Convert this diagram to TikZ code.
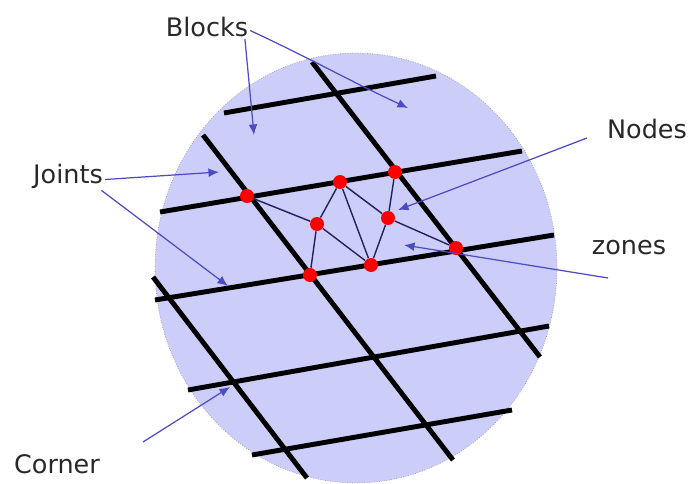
\documentclass[tikz,border=0pt]{standalone}
\usepackage{fontspec}
\setmainfont{DejaVu Sans}
\usetikzlibrary{shapes.geometric, arrows.meta, positioning}
\definecolor{rockfill}{RGB}{205,205,250}
\definecolor{pointblue}{RGB}{75,75,195}
\definecolor{zoneline}{RGB}{35,35,90}
\definecolor{labelgray}{RGB}{40,40,40}
\tikzset{
    rock/.style={ellipse, draw=gray!80, densely dotted, fill=rockfill, inner sep=0pt,
                 minimum width=8.04cm, minimum height=8.6cm},
    joint/.style={line width=2.8pt, draw=black},
    zoneedge/.style={line width=0.8pt, draw=zoneline},
    gridpt/.style={circle, fill=red, inner sep=0pt, minimum size=0.28cm},
    lbl/.style={font=\fontsize{14.5}{17}\selectfont, text=labelgray, inner sep=1pt},
    pointer/.style={-{Latex[length=6pt, width=5pt]}, line width=0.7pt, draw=pointblue},
}

\begin{document}
\begin{tikzpicture}[x=0.02cm, y=-0.02cm]
    \useasboundingbox (0,0) rectangle (691,484);
    \node[rock] (rock) at (356,268) {};
    % joints
    \draw[joint] (224,113) -- (436,76)
                 (160,212) -- (522,151)
                 (155,300) -- (554,235)
                 (188,390) -- (549,326)
                 (252,455) -- (512,410);
    \draw[joint] (203,135) -- (453,460)
                 (312,62) -- (540,357)
                 (153,277) -- (307,478);
    % zone nodes
    \node[gridpt] (n1) at (247,196) {};
    \node[gridpt] (n2) at (340,182) {};
    \node[gridpt] (n3) at (395,172) {};
    \node[gridpt] (n4) at (317,224) {};
    \node[gridpt] (n5) at (388,218) {};
    \node[gridpt] (n6) at (456,248) {};
    \node[gridpt] (n7) at (310,275) {};
    \node[gridpt] (n8) at (371,265) {};
    \draw[zoneedge] (n1) -- (n4) (n4) -- (n2) (n4) -- (n7) (n4) -- (n8)
                    (n2) -- (n8) (n2) -- (n5) (n3) -- (n5) (n5) -- (n8) (n5) -- (n6);
    % labels
    \node[lbl] (blk) at (207,27) {Blocks};
    \node[lbl] (jnt) at (68,176) {Joints};
    \node[lbl] (nds) at (647,129) {Nodes};
    \node[lbl] (zns) at (629,248) {zones};
    \node[lbl] (cnr) at (57,464) {Corner};
    \coordinate (blk1) at (254,135);
    \coordinate (blk2) at (408,108);
    \coordinate (jnt1) at (219,172);
    \coordinate (jnt2) at (228,286);
    \coordinate (nds0) at (587,138);
    \coordinate (nds1) at (398,210);
    \coordinate (zns0) at (608,278);
    \coordinate (zns1) at (404,245);
    \coordinate (cnr0) at (143,442);
    \coordinate (cnr1) at (230,387);
    \draw[pointer] ([xshift=-3pt]blk.south east) -- (blk1);
    \draw[pointer] ([yshift=-2pt]blk.east) to[out=-25, in=155] (blk2);
    \draw[pointer] ([yshift=-2pt]jnt.east) -- (jnt1);
    \draw[pointer] ([xshift=-2pt]jnt.south east) -- (jnt2);
    \draw[pointer] (nds0) -- (nds1);
    \draw[pointer] (zns0) -- (zns1);
    \draw[pointer] (cnr0) -- (cnr1);
\end{tikzpicture}
\end{document}
